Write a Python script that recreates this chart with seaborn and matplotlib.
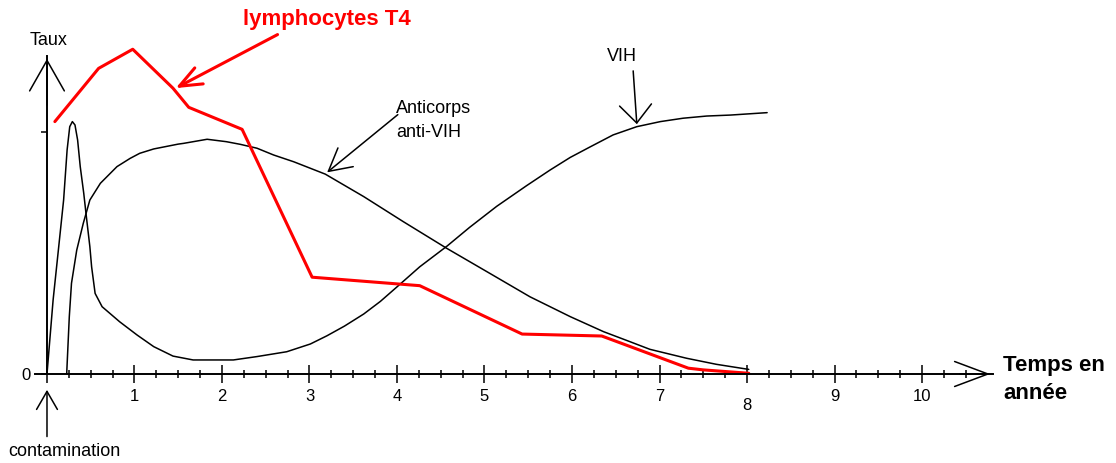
import matplotlib
matplotlib.use('Agg')
import matplotlib.pyplot as plt
import pandas as pd
import seaborn as sns

sns.set_style('white')
plt.rcParams['font.family'] = ['Liberation Sans', 'DejaVu Sans']
plt.rcParams['text.color'] = 'black'
plt.rcParams['xtick.color'] = 'black'
plt.rcParams['ytick.color'] = 'black'

# lymphocytes T4 (red broken line)
t4_years = [0.09, 0.59, 0.98, 1.44, 1.62, 2.23, 3.03, 4.26, 5.43, 6.34, 7.33, 7.50, 8.02]
t4_taux = [104.3, 126.3, 134.2, 118.1, 110.2, 101.1, 40.0, 36.5, 16.5, 15.7, 2.4, 1.7, 0.3]

# VIH (primary infection peak, latency, then rise)
vih_years = [0.0, 0.07, 0.13, 0.19, 0.23, 0.26, 0.29, 0.32, 0.35, 0.38, 0.42, 0.45, 0.49,
             0.51, 0.55, 0.63, 0.83, 1.03, 1.22, 1.44, 1.67, 1.9, 2.13, 2.4, 2.74, 3.01,
             3.2, 3.4, 3.62, 3.81, 4.0, 4.26, 4.57, 4.83, 5.14, 5.48, 5.75, 5.98, 6.21,
             6.47, 6.74, 7.01, 7.27, 7.54, 7.81, 8.23]
vih_taux = [0.0, 30.6, 51.2, 71.9, 92.6, 102.2, 104.3, 102.9, 96.7, 85.7, 74.7, 65.0, 52.6,
            44.3, 33.3, 27.8, 21.6, 16.1, 11.3, 7.4, 5.8, 5.8, 5.8, 7.2, 9.2, 12.4,
            15.8, 19.8, 24.8, 30.0, 36.0, 44.3, 52.8, 60.6, 69.3, 77.8, 84.3, 89.5, 93.9,
            98.8, 102.2, 104.3, 105.7, 106.6, 107.0, 108.0]

# anticorps anti-VIH
ac_years = [0.225, 0.255, 0.28, 0.34, 0.415, 0.49, 0.61, 0.8, 0.95, 1.06, 1.22, 1.5,
            1.56, 1.83, 2.05, 2.21, 2.4, 2.59, 2.82, 3.18, 3.62, 4.07, 4.57, 5.06, 5.52,
            5.98, 6.36, 6.63, 6.89, 7.31, 7.65, 8.02]
ac_taux = [0.0, 23.7, 37.5, 51.2, 62.3, 71.9, 78.8, 85.7, 89.1, 91.2, 93.0, 95.0,
           95.3, 97.0, 96.0, 94.9, 93.3, 90.5, 87.7, 82.6, 73.3, 63.0, 51.9, 41.6, 31.9,
           23.7, 17.5, 13.8, 10.2, 6.5, 4.0, 1.9]

x_major = list(range(0, 11))
x_labels = [''] + [str(i) for i in range(1, 11)]
x_minor = [i / 4 for i in range(1, 43) if i % 4 != 0]

fig = plt.figure(figsize=(11.16, 4.63), dpi=100)
ax = fig.add_axes([0, 0, 1, 1])

sns.lineplot(x=vih_years, y=vih_taux, sort=False, estimator=None, color='black',
             linewidth=1.1, ax=ax)
sns.lineplot(x=ac_years, y=ac_taux, sort=False, estimator=None, color='black',
             linewidth=1.1, ax=ax)
sns.lineplot(x=t4_years, y=t4_taux, sort=False, estimator=None, color='#ff0000',
             linewidth=2.2, ax=ax)

ax.set_xlim(-0.537, 12.217)
ax.set_ylim(-36.78, 154.55)

# axes drawn as crossing lines through the origin
for side in ['top', 'right']:
    ax.spines[side].set_visible(False)
ax.spines['left'].set_position(('data', 0))
ax.spines['bottom'].set_position(('data', 0))
ax.spines['left'].set_bounds(0, 131.4)
ax.spines['bottom'].set_bounds(-0.14, 10.81)
for side in ['left', 'bottom']:
    ax.spines[side].set_color('black')
    ax.spines[side].set_linewidth(1.4)

ax.set_xticks(x_major)
ax.set_xticklabels(x_labels)
ax.set_xticks(x_minor, minor=True)
ax.set_yticks([0, 100])
ax.set_yticklabels(['0', ''])
ax.tick_params(axis='x', which='major', bottom=True, direction='inout', length=13,
               width=1.1, pad=4, labelsize=12, color='black', labelcolor='black')
ax.tick_params(axis='x', which='minor', bottom=True, direction='inout', length=6,
               width=1.1, color='black')
ax.tick_params(axis='y', left=True, direction='out', length=4, width=1.1, pad=8,
               labelsize=12, color='black', labelcolor='black')
ax.xaxis.get_major_ticks()[8].set_pad(11)
ax.set_xlabel('')
ax.set_ylabel('')

# arrow heads on the axes
ax.annotate('', xy=(0, 131.4), xytext=(0, 110),
            arrowprops=dict(arrowstyle='->,head_length=22,head_width=12.5',
                            mutation_scale=1, lw=1.1, color='black'))
ax.annotate('', xy=(10.81, 0), xytext=(10.4, 0),
            arrowprops=dict(arrowstyle='->,head_length=24,head_width=9',
                            mutation_scale=1, lw=1.1, color='black'))

ax.text(0.017, 138, 'Taux', ha='center', va='center', fontsize=13, color='black')
ax.text(10.926, 3.7, 'Temps en', ha='left', va='center', fontsize=16,
        fontweight='bold', color='black')
ax.text(10.926, -7.9, 'année', ha='left', va='center', fontsize=16,
        fontweight='bold', color='black')

# contamination
ax.annotate('', xy=(0, -5.4), xytext=(0, -27),
            arrowprops=dict(arrowstyle='->,head_length=13,head_width=7.5',
                            mutation_scale=1, lw=1.1, color='black'))
ax.text(0.194, -32.2, 'contamination', ha='center', va='center', fontsize=13,
        color='black')

# curve labels
ax.text(2.24, 146.3, 'lymphocytes T4', ha='left', va='center', fontsize=16,
        fontweight='bold', color='#ff0000')
ax.annotate('', xy=(1.443, 117.6), xytext=(2.663, 140.8),
            arrowprops=dict(arrowstyle='->,head_length=16,head_width=6.5',
                            mutation_scale=1, lw=2.2, color='#ff0000'))

ax.text(3.989, 109.9, 'Anticorps', ha='left', va='center', fontsize=13, color='black')
ax.text(3.989, 99.6, 'anti-VIH', ha='left', va='center', fontsize=13, color='black')
ax.annotate('', xy=(3.177, 82.6), xytext=(4.034, 107.9),
            arrowprops=dict(arrowstyle='->,head_length=16,head_width=8.7',
                            mutation_scale=1, lw=1.1, color='black'))

ax.text(6.571, 131, 'VIH', ha='center', va='center', fontsize=13, color='black')
ax.annotate('', xy=(6.743, 102.1), xytext=(6.697, 126.4),
            arrowprops=dict(arrowstyle='->,head_length=13,head_width=11.5',
                            mutation_scale=1, lw=1.1, color='black'))

fig.savefig('out.png', dpi=100)
